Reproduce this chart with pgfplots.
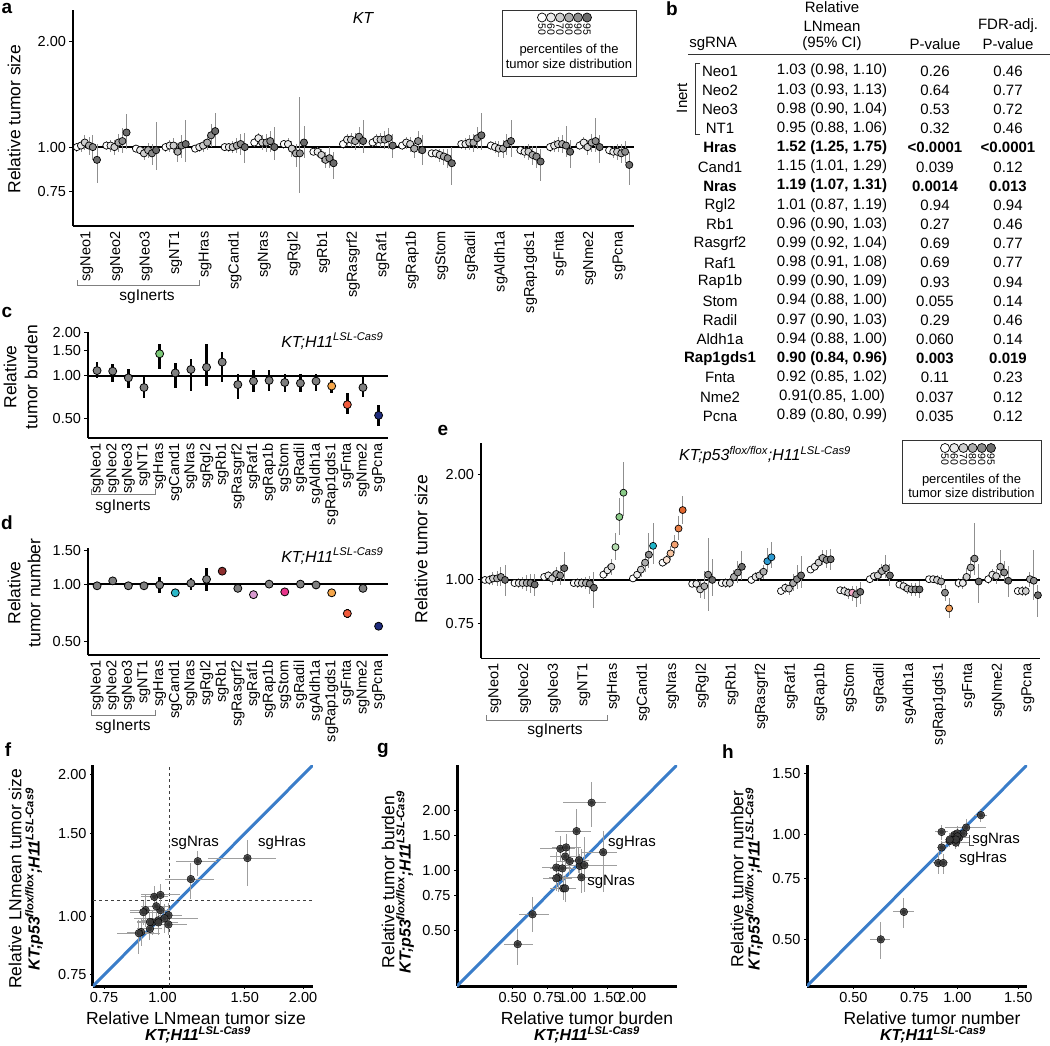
\documentclass[border=0pt]{standalone}
\usepackage{fontspec}
\setmainfont{Liberation Sans}
\usepackage{pgfplots}
\usepackage{pgfplotstable}
\pgfplotsset{compat=1.18}

\definecolor{pA}{HTML}{FFFFFF}
\definecolor{pB}{HTML}{EBEBEB}
\definecolor{pC}{HTML}{CFCFCF}
\definecolor{pD}{HTML}{ADADAD}
\definecolor{pE}{HTML}{8C8C8C}
\definecolor{pF}{HTML}{6B6B6B}
\definecolor{gA}{HTML}{B5DDB0}
\definecolor{gB}{HTML}{8ACB88}
\definecolor{cyA}{HTML}{1FB5C9}
\definecolor{oA}{HTML}{FBE5D6}
\definecolor{oB}{HTML}{F6C4A0}
\definecolor{oC}{HTML}{F2A070}
\definecolor{oD}{HTML}{EA8048}
\definecolor{oE}{HTML}{E2672E}
\definecolor{blA}{HTML}{2C9AD1}
\definecolor{pkA}{HTML}{F2A7C6}
\definecolor{orA}{HTML}{F4A05A}
\definecolor{cgray}{HTML}{7F7F7F}
\definecolor{hgreen}{HTML}{7CC978}
\definecolor{corange}{HTML}{F5A64A}
\definecolor{cred}{HTML}{F15A3B}
\definecolor{cnavy}{HTML}{1E2B7C}
\definecolor{ccyan}{HTML}{2CB8C8}
\definecolor{cdred}{HTML}{8E2E2E}
\definecolor{clav}{HTML}{D79ACF}
\definecolor{cpink}{HTML}{E8358A}
\definecolor{errgray}{HTML}{8F8F8F}
\definecolor{diagblue}{HTML}{3A7DC9}
\definecolor{ptdark}{HTML}{3C3C3C}

\newcommand\fsz[1]{\fontsize{#1}{#1}\selectfont}

\pgfplotsset{/pgf/number format/assume math mode=true}
\pgfplotsset{
  dotbase/.style={scale only axis, axis x line*=bottom, axis y line*=left,
    tick label style={font=\fsz{14.5}},
    tick align=outside, major tick length=3.5pt,
    ytick style={black, line width=1pt}, xtick style={draw=none},
    xtick={0,...,18},
    xticklabels={sgNeo1,sgNeo2,sgNeo3,sgNT1,sgHras,sgCand1,sgNras,sgRgl2,sgRb1,sgRasgrf2,sgRaf1,sgRap1b,sgStom,sgRadil,sgAldh1a,sgRap1gds1,sgFnta,sgNme2,sgPcna},
    xticklabel style={rotate=90, anchor=east, inner sep=2pt},
    y axis line style={line width=2.5pt}, x axis line style={line width=1.6pt},
  },
  pct/.style={scatter, only marks, scatter src=explicit symbolic,
    mark options={line width=0.7pt},
    scatter/classes={
      p1={mark=*,draw=black,fill=pA}, p2={mark=*,draw=black,fill=pB},
      p3={mark=*,draw=black,fill=pC}, p4={mark=*,draw=black,fill=pD},
      p5={mark=*,draw=black,fill=pE}, p6={mark=*,draw=black,fill=pF},
      gA={mark=*,draw=black,fill=gA}, gB={mark=*,draw=black,fill=gB},
      cy={mark=*,draw=black,fill=cyA},
      oA={mark=*,draw=black,fill=oA}, oB={mark=*,draw=black,fill=oB},
      oC={mark=*,draw=black,fill=oC}, oD={mark=*,draw=black,fill=oD},
      oE={mark=*,draw=black,fill=oE},
      bl={mark=*,draw=black,fill=blA}, pk={mark=*,draw=black,fill=pkA},
      or={mark=*,draw=black,fill=orA}}},
  cdcls/.style={scatter, only marks, scatter src=explicit symbolic,
    mark options={line width=0.8pt}, mark size=4pt,
    scatter/classes={
      g={mark=*,draw=black,fill=cgray}, hg={mark=*,draw=black,fill=hgreen},
      co={mark=*,draw=black,fill=corange}, cr={mark=*,draw=black,fill=cred},
      cn={mark=*,draw=black,fill=cnavy}, cc={mark=*,draw=black,fill=ccyan},
      cd={mark=*,draw=black,fill=cdred}, cl={mark=*,draw=black,fill=clav},
      cp={mark=*,draw=black,fill=cpink}}},
  scatbase/.style={scale only axis, axis x line*=bottom, axis y line*=left,
    tick label style={font=\fsz{14.5}},
    tick align=outside, major tick length=3pt,
    tick style={black, line width=1pt},
    axis line style={line width=3pt}},
  errs/.style={only marks, mark=none, forget plot,
    error bars/y dir=both, error bars/y explicit, error bars/error mark=none,
    error bars/error bar style={draw=errgray, line width=0.9pt}},
  errsblack/.style={only marks, mark=none, forget plot,
    error bars/y dir=both, error bars/y explicit, error bars/error mark=none,
    error bars/error bar style={draw=black, line width=2.5pt}},
  xyerrs/.style={only marks, mark=none, forget plot,
    error bars/x dir=both, error bars/x explicit, error bars/y dir=both, error bars/y explicit,
    error bars/error mark=none,
    error bars/error bar style={draw=gray!75, line width=1pt}},
  darkpts/.style={only marks, mark=*, mark size=3.8pt,
    mark options={draw=none, fill=ptdark, fill opacity=0.85}},
}

\pgfplotstableread{
x y ep em c
-0.34 1.00 .03 .03 p1
-0.20 1.01 .04 .04 p2
-0.07 1.03 .05 .05 p3
0.07 1.01 .06 .06 p4
0.20 1.00 .08 .08 p5
0.34 0.92 .10 .13 p6
0.66 1.01 .03 .03 p1
0.80 1.01 .04 .04 p2
0.93 1.00 .05 .05 p3
1.07 1.03 .06 .06 p4
1.20 1.04 .09 .08 p5
1.34 1.10 .14 .11 p6
1.66 0.99 .02 .02 p1
1.80 0.98 .03 .03 p2
1.93 0.96 .04 .04 p3
2.07 0.98 .05 .05 p4
2.20 0.96 .06 .07 p5
2.34 0.98 .20 .12 p6
2.66 1.00 .03 .03 p1
2.80 1.01 .04 .04 p2
2.93 1.01 .05 .05 p3
3.07 0.97 .06 .06 p4
3.20 1.01 .07 .08 p5
3.34 1.02 .17 .11 p6
3.66 0.99 .02 .02 p1
3.80 1.00 .03 .03 p2
3.93 1.01 .04 .04 p3
4.07 1.03 .05 .05 p4
4.20 1.08 .08 .08 p5
4.34 1.11 .14 .10 p6
4.66 1.00 .02 .02 p1
4.80 1.00 .03 .03 p2
4.93 1.00 .04 .04 p3
5.07 1.01 .05 .05 p4
5.20 1.02 .07 .07 p5
5.34 1.00 .10 .10 p6
5.66 1.03 .03 .03 p1
5.80 1.06 .04 .04 p2
5.93 1.03 .05 .05 p3
6.07 1.03 .06 .06 p4
6.20 1.04 .07 .07 p5
6.34 1.00 .14 .08 p6
6.66 1.02 .03 .03 p1
6.80 1.02 .04 .04 p2
6.93 0.99 .05 .05 p3
7.07 0.96 .06 .08 p4
7.20 0.96 .43 .22 p5
7.34 1.03 .12 .10 p6
7.66 0.97 .02 .02 p1
7.80 0.97 .03 .03 p2
7.93 0.95 .04 .04 p3
8.07 0.92 .05 .05 p4
8.20 0.93 .07 .06 p5
8.34 0.90 .07 .09 p6
8.66 1.02 .03 .03 p1
8.80 1.05 .04 .04 p2
8.93 1.05 .05 .05 p3
9.07 1.04 .06 .06 p4
9.20 1.07 .07 .07 p5
9.34 1.04 .15 .08 p6
9.66 1.03 .03 .03 p1
9.80 1.05 .04 .04 p2
9.93 1.05 .05 .05 p3
10.07 1.05 .06 .06 p4
10.20 1.06 .07 .07 p5
10.34 1.01 .08 .08 p6
10.66 1.01 .03 .03 p1
10.80 1.03 .04 .04 p2
10.93 1.02 .05 .05 p3
11.07 0.99 .06 .06 p4
11.20 1.04 .07 .08 p5
11.34 0.98 .10 .09 p6
11.66 0.96 .02 .02 p1
11.80 0.96 .03 .03 p2
11.93 0.95 .04 .04 p3
12.07 0.94 .05 .05 p4
12.20 0.93 .06 .06 p5
12.34 0.90 .10 .12 p6
12.66 1.02 .03 .03 p1
12.80 1.02 .04 .04 p2
12.93 1.03 .05 .05 p3
13.07 1.03 .06 .06 p4
13.20 1.06 .08 .07 p5
13.34 1.08 .17 .10 p6
13.66 1.01 .03 .03 p1
13.80 1.00 .04 .04 p2
13.93 0.99 .05 .05 p3
14.07 0.99 .06 .06 p4
14.20 1.02 .07 .07 p5
14.34 1.04 .15 .10 p6
14.66 0.98 .03 .03 p1
14.80 0.97 .04 .04 p2
14.93 0.97 .05 .05 p3
15.07 0.95 .06 .06 p4
15.20 0.94 .07 .07 p5
15.34 0.91 .08 .11 p6
15.66 1.00 .03 .03 p1
15.80 1.01 .04 .04 p2
15.93 1.02 .05 .05 p3
16.07 1.02 .06 .06 p4
16.20 1.01 .14 .07 p5
16.34 0.97 .08 .10 p6
16.66 1.01 .03 .03 p1
16.80 1.03 .04 .04 p2
16.93 1.00 .05 .05 p3
17.07 1.03 .06 .06 p4
17.20 1.04 .17 .07 p5
17.34 1.00 .08 .10 p6
17.66 0.98 .03 .03 p1
17.80 0.97 .04 .04 p2
17.93 0.97 .05 .05 p3
18.07 0.96 .06 .06 p4
18.20 0.97 .07 .07 p5
18.34 0.89 .08 .11 p6
}\dataA

\pgfplotstableread{
x y ep em c
-0.34 1.00 .02 .02 p1
-0.20 1.00 .03 .03 p2
-0.07 1.01 .04 .04 p3
0.07 1.01 .05 .05 p4
0.20 1.02 .07 .06 p5
0.34 1.00 .10 .10 p6
0.66 0.98 .02 .02 p1
0.80 0.98 .03 .03 p2
0.93 0.98 .04 .04 p3
1.07 0.98 .05 .05 p4
1.20 0.98 .06 .06 p5
1.34 0.97 .07 .07 p6
1.66 1.02 .02 .02 p1
1.80 1.03 .03 .03 p2
1.93 1.01 .04 .04 p3
2.07 1.04 .05 .05 p4
2.20 1.03 .07 .06 p5
2.34 1.08 .12 .09 p6
2.66 0.98 .02 .02 p1
2.80 0.98 .03 .03 p2
2.93 0.98 .03 .03 p3
3.07 0.98 .04 .04 p4
3.20 0.975 .05 .06 p5
3.34 0.95 .10 .12 p6
3.66 1.035 .03 .03 p1
3.80 1.065 .04 .04 p2
3.93 1.09 .06 .06 p3
4.07 1.24 .12 .10 gA
4.20 1.51 .20 .17 gB
4.34 1.77 .40 .25 gB
4.66 1.01 .02 .02 p1
4.80 1.035 .03 .03 p2
4.93 1.07 .05 .05 p3
5.07 1.12 .08 .07 p4
5.20 1.18 .18 .10 p5
5.34 1.25 .20 .14 cy
5.66 1.12 .03 .03 p1
5.80 1.14 .04 .04 oA
5.93 1.19 .06 .05 oB
6.07 1.26 .08 .07 oC
6.20 1.40 .12 .10 oD
6.34 1.58 .15 .14 oE
6.66 0.975 .02 .02 p1
6.80 0.975 .03 .03 p2
6.93 0.94 .05 .05 p3
7.07 0.96 .10 .08 p4
7.20 1.035 .28 .22 p5
7.34 1.00 .15 .10 p6
7.66 0.98 .02 .02 p1
7.80 0.98 .03 .03 p2
7.93 0.98 .03 .03 p3
8.07 1.02 .05 .04 p4
8.20 1.05 .08 .07 p5
8.34 1.09 .12 .09 p6
8.66 1.00 .02 .02 p1
8.80 1.02 .03 .03 p2
8.93 1.03 .04 .04 p3
9.07 1.055 .05 .05 p4
9.20 1.13 .10 .08 bl
9.34 1.16 .12 .08 bl
9.66 0.93 .02 .02 p1
9.80 0.95 .03 .03 p2
9.93 0.945 .04 .04 p3
10.07 0.98 .06 .05 p4
10.20 1.005 .10 .06 p5
10.34 1.03 .14 .08 p6
10.66 1.07 .02 .02 p1
10.80 1.09 .03 .03 p2
10.93 1.12 .05 .04 p3
11.07 1.155 .06 .05 p4
11.20 1.14 .08 .06 p5
11.34 1.145 .08 .08 p6
11.66 0.935 .02 .02 p1
11.80 0.93 .03 .03 p2
11.93 0.92 .03 .04 p3
12.07 0.92 .04 .05 pk
12.20 0.91 .05 .07 p5
12.34 0.925 .06 .07 p6
12.66 1.005 .02 .02 p1
12.80 1.025 .03 .03 p2
12.93 1.03 .04 .04 p3
13.07 1.06 .05 .05 p4
13.20 1.08 .10 .07 p5
13.34 1.03 .08 .07 p6
13.66 0.97 .02 .02 p1
13.80 0.96 .03 .03 p2
13.93 0.945 .03 .03 p3
14.07 0.94 .04 .04 p4
14.20 0.94 .04 .04 p5
14.34 0.94 .05 .05 p6
14.66 1.005 .02 .02 p1
14.80 1.005 .02 .02 p2
14.93 1.00 .03 .03 p3
15.07 0.99 .04 .04 p4
15.20 0.92 .05 .05 p5
15.34 0.83 .06 .05 or
15.66 0.98 .03 .03 p1
15.80 0.98 .04 .04 p2
15.93 1.02 .06 .05 p3
16.07 1.085 .08 .07 p4
16.20 1.15 .30 .12 p5
16.34 0.99 .12 .13 p6
16.66 1.005 .03 .03 p1
16.80 1.035 .04 .04 p2
16.93 1.025 .05 .05 p3
17.07 1.09 .13 .08 p4
17.20 1.05 .08 .07 p5
17.34 0.995 .10 .10 p6
17.66 0.93 .02 .02 p1
17.80 0.93 .03 .03 p2
17.93 0.93 .03 .03 p3
18.07 1.005 .05 .05 p4
18.20 0.995 .22 .12 p5
18.34 0.905 .06 .12 p6
}\dataE

\pgfplotstableread{
x y ep em c
0 1.09 .16 .13 g
1 1.08 .14 .17 g
2 0.97 .15 .14 g
3 0.83 .15 .13 g
4 1.43 .25 .31 hg
5 1.05 .19 .23 g
6 1.11 .21 .32 g
7 1.15 .53 .30 g
8 1.25 .22 .35 g
9 0.87 .16 .18 g
10 0.92 .18 .15 g
11 0.93 .17 .14 g
12 0.90 .14 .13 g
13 0.89 .14 .12 g
14 0.92 .11 .13 g
15 0.85 .09 .09 co
16 0.63 .13 .09 cr
17 0.83 .17 .12 g
18 0.53 .10 .08 cn
}\dataC

\pgfplotstableread{
x y ep em c
0 0.98 .02 .02 g
1 1.04 .02 .02 g
2 0.98 .02 .02 g
3 0.98 .02 .02 g
4 0.99 .10 .09 g
5 0.90 .03 .03 cc
6 1.01 .07 .08 g
7 1.06 .15 .14 g
8 1.17 .04 .04 cd
9 0.95 .02 .02 g
10 0.88 .03 .03 cl
11 1.00 .05 .05 g
12 0.91 .03 .03 cp
13 1.00 .02 .02 g
14 0.99 .05 .05 g
15 0.90 .03 .03 co
16 0.70 .04 .04 cr
17 0.95 .02 .02 g
18 0.60 .02 .02 cn
}\dataD

\pgfplotstableread{
x y xp xm yp ym
1.03 1.005 .07 .05 .06 .05
1.03 0.96 .10 .10 .05 .05
0.98 0.98 .06 .08 .05 .05
0.95 0.97 .11 .07 .06 .06
1.52 1.33 .23 .27 .12 .17
1.15 1.20 .14 .14 .10 .11
1.19 1.31 .12 .12 .07 .09
1.01 0.99 .18 .14 .07 .07
0.96 1.10 .07 .06 .06 .06
0.99 1.03 .05 .07 .05 .05
0.98 0.97 .10 .07 .06 .06
0.99 1.11 .10 .09 .06 .06
0.94 0.94 .06 .06 .05 .05
0.97 1.05 .06 .07 .06 .06
0.94 0.972 .06 .06 .05 .05
0.90 0.925 .06 .06 .06 .06
0.92 1.03 .10 .07 .08 .08
0.91 1.02 .09 .06 .06 .06
0.89 0.92 .10 .09 .06 .09
}\dataF

\pgfplotstableread{
x y xp xm yp ym
1.09 1.05 .16 .13 .15 .13
1.08 1.12 .14 .17 .18 .15
0.97 1.11 .15 .14 .20 .17
0.83 1.03 .15 .13 .20 .15
1.43 1.23 .25 .31 .34 .45
1.05 1.57 .19 .23 .45 .50
1.11 0.92 .21 .32 .35 .15
1.15 1.06 .53 .30 .40 .28
1.25 2.18 .22 .35 .60 .53
0.87 1.28 .16 .18 .20 .18
0.92 1.17 .18 .15 .18 .15
0.93 1.30 .17 .14 .22 .20
0.90 0.81 .14 .13 .12 .10
0.89 1.02 .14 .12 .16 .14
0.92 0.81 .11 .13 .14 .12
0.85 0.92 .09 .09 .15 .14
0.63 0.60 .13 .09 .13 .11
0.83 0.91 .17 .12 .12 .12
0.53 0.425 .10 .08 .08 .09
}\dataG

\pgfplotstableread{
x y xp xm yp ym
0.98 0.99 .02 .02 .03 .03
1.04 1.01 .03 .03 .03 .03
0.98 1.00 .02 .02 .03 .03
0.98 0.97 .03 .03 .04 .04
0.99 0.95 .10 .09 .04 .04
0.90 1.02 .04 .04 .05 .05
1.01 0.98 .07 .08 .05 .06
1.06 1.05 .15 .14 .06 .06
1.17 1.14 .05 .05 .05 .05
0.95 0.96 .03 .03 .04 .04
0.88 0.83 .03 .03 .06 .06
1.00 1.01 .05 .05 .05 .05
0.91 0.83 .03 .03 .05 .06
1.00 0.99 .03 .03 .04 .04
0.99 0.97 .05 .05 .04 .04
0.90 0.92 .03 .03 .04 .04
0.70 0.60 .05 .05 .06 .06
0.95 0.97 .03 .03 .04 .04
0.60 0.50 .04 .04 .06 .06
}\dataH

\begin{document}
\begin{tikzpicture}
\useasboundingbox (0pt,0pt) rectangle (1050pt,-1045pt);

% ---------------- panel a ----------------
\begin{axis}[dotbase, ymode=log, at={(73pt,-226pt)}, anchor=south west,
  width=561pt, height=216pt, xmin=-0.47, xmax=18.5, ymin=0.597, ymax=2.45,
  ytick={0.75,1,2}, yticklabels={0.75,1.00,2.00}]
\addplot[black, line width=2pt, forget plot] coordinates {(-0.47,1) (18.5,1)};
\addplot[errs] table[x=x,y=y,y error plus=ep,y error minus=em] {\dataA};
\addplot[pct, mark size=3.6pt] table[x=x,y=y,meta=c] {\dataA};
\end{axis}
\node[rotate=90, font=\fsz{17.5}] at (14pt,-119pt) {Relative tumor size};
\node[font=\fsz{16}\itshape] at (363pt,-18pt) {KT};
\draw[gray, line width=1pt] (77pt,-280pt) -- (77pt,-285pt) -- (199pt,-285pt) -- (199pt,-280pt);
\node[font=\fsz{15.5}] at (147pt,-297pt) {sgInerts};
\node[font=\fsz{19}\bfseries] at (7pt,-8pt) {a};

% legend a
\begin{axis}[scale only axis, at={(502pt,-76.5pt)}, anchor=south west,
  width=134pt, height=66pt, xmin=0, xmax=134, ymin=0, ymax=66,
  axis line style={line width=0.8pt, black!80}, ticks=none]
\addplot[pct, mark size=4.5pt] table[x=x,y=y,meta=c] {
x y c
40 59 p1
49 59 p2
58 59 p3
67 59 p4
76 59 p5
85 59 p6
};
\node[rotate=-90, anchor=west, font=\fsz{10.5}, inner sep=0pt] at (axis cs:40,53.5) {50};
\node[rotate=-90, anchor=west, font=\fsz{10.5}, inner sep=0pt] at (axis cs:49,53.5) {60};
\node[rotate=-90, anchor=west, font=\fsz{10.5}, inner sep=0pt] at (axis cs:58,53.5) {70};
\node[rotate=-90, anchor=west, font=\fsz{10.5}, inner sep=0pt] at (axis cs:67,53.5) {80};
\node[rotate=-90, anchor=west, font=\fsz{10.5}, inner sep=0pt] at (axis cs:76,53.5) {90};
\node[rotate=-90, anchor=west, font=\fsz{10.5}, inner sep=0pt] at (axis cs:85,53.5) {95};
\node[font=\fsz{13}] at (axis cs:67,26.5) {percentiles of the};
\node[font=\fsz{13}] at (axis cs:67,12.5) {tumor size distribution};
\end{axis}

% ---------------- panel b (table) ----------------
\node[font=\fsz{19}\bfseries] at (672pt,-9pt) {b};
\node[font=\fsz{15}] at (832pt,-7pt) {Relative};
\node[font=\fsz{15}] at (832pt,-26pt) {LNmean};
\node[font=\fsz{15}] at (832pt,-44pt) {(95\% CI)};
\node[font=\fsz{15}] at (713pt,-44pt) {sgRNA};
\node[font=\fsz{15}] at (935pt,-44pt) {P-value};
\node[font=\fsz{15}] at (1008pt,-26pt) {FDR-adj.};
\node[font=\fsz{15}] at (1008pt,-44pt) {P-value};
\draw[black!80, line width=1pt] (688pt,-54.5pt) -- (1050pt,-54.5pt);
\draw[black!80, line width=1pt] (700pt,-63pt) -- (695pt,-63pt) -- (695pt,-134pt) -- (700pt,-134pt);
\node[rotate=90, font=\fsz{15}] at (682pt,-98pt) {Inert};
\foreach \f/\n/\a/\b/\c [count=\i from 0] in {
  \relax/Neo1/{1.03 (0.98, 1.10)}/0.26/0.46,
  \relax/Neo2/{1.03 (0.93, 1.13)}/0.64/0.77,
  \relax/Neo3/{0.98 (0.90, 1.04)}/0.53/0.72,
  \relax/NT1/{0.95 (0.88, 1.06)}/0.32/0.46,
  \bfseries/Hras/{1.52 (1.25, 1.75)}/{<0.0001}/{<0.0001},
  \relax/Cand1/{1.15 (1.01, 1.29)}/0.039/0.12,
  \bfseries/Nras/{1.19 (1.07, 1.31)}/0.0014/0.013,
  \relax/Rgl2/{1.01 (0.87, 1.19)}/0.94/0.94,
  \relax/Rb1/{0.96 (0.90, 1.03)}/0.27/0.46,
  \relax/Rasgrf2/{0.99 (0.92, 1.04)}/0.69/0.77,
  \relax/Raf1/{0.98 (0.91, 1.08)}/0.69/0.77,
  \relax/Rap1b/{0.99 (0.90, 1.09)}/0.93/0.94,
  \relax/Stom/{0.94 (0.88, 1.00)}/0.055/0.14,
  \relax/Radil/{0.97 (0.90, 1.03)}/0.29/0.46,
  \relax/Aldh1a/{0.94 (0.88, 1.00)}/0.060/0.14,
  \bfseries/Rap1gds1/{0.90 (0.84, 0.96)}/0.003/0.019,
  \relax/Fnta/{0.92 (0.85, 1.02)}/0.11/0.23,
  \relax/Nme2/{0.91(0.85, 1.00)}/0.037/0.12,
  \relax/Pcna/{0.89 (0.80, 0.99)}/0.035/0.12}{
  \pgfmathsetmacro\yy{-(71+19.17*\i)}
  \node[font=\fsz{15}\f] at (720pt,\yy pt) {\n};
  \node[font=\fsz{15}\f] at (832pt,\yy pt) {\a};
  \node[font=\fsz{15}\f] at (935pt,\yy pt) {\b};
  \node[font=\fsz{15}\f] at (1008pt,\yy pt) {\c};
}

% ---------------- panel c ----------------
\begin{axis}[dotbase, ymode=log, at={(88pt,-438pt)}, anchor=south west,
  width=300pt, height=106pt, xmin=-0.58, xmax=18.6, ymin=0.368, ymax=2.03,
  ytick={0.5,1,1.5,2}, yticklabels={0.50,1.00,1.50,2.00},
  x axis line style={line width=2pt}]
\addplot[black, line width=2pt, forget plot] coordinates {(-0.58,1) (18.6,1)};
\addplot[errsblack] table[x=x,y=y,y error plus=ep,y error minus=em] {\dataC};
\addplot[cdcls] table[x=x,y=y,meta=c] {\dataC};
\end{axis}
\node[rotate=90, font=\fsz{17.5}] at (10pt,-377pt) {Relative};
\node[rotate=90, font=\fsz{17.5}] at (31pt,-377pt) {tumor burden};
\node[anchor=east, font=\fsz{16}\itshape] at (387pt,-341pt) {KT;H11\textsuperscript{LSL-Cas9}};
\draw[gray, line width=1pt] (91pt,-489pt) -- (91pt,-494pt) -- (155pt,-494pt) -- (155pt,-489pt);
\node[font=\fsz{15.5}] at (123pt,-507pt) {sgInerts};
\node[font=\fsz{19}\bfseries] at (7pt,-312pt) {c};

% ---------------- panel d ----------------
\begin{axis}[dotbase, ymode=log, at={(88pt,-655pt)}, anchor=south west,
  width=300pt, height=107pt, xmin=-0.58, xmax=18.6, ymin=0.423, ymax=1.55,
  ytick={0.5,1,1.5}, yticklabels={0.50,1.00,1.50},
  x axis line style={line width=2pt}]
\addplot[black, line width=2pt, forget plot] coordinates {(-0.58,1) (18.6,1)};
\addplot[errsblack] table[x=x,y=y,y error plus=ep,y error minus=em] {\dataD};
\addplot[cdcls] table[x=x,y=y,meta=c] {\dataD};
\end{axis}
\node[rotate=90, font=\fsz{17.5}] at (14pt,-593pt) {Relative};
\node[rotate=90, font=\fsz{17.5}] at (34pt,-593pt) {tumor number};
\node[anchor=east, font=\fsz{16}\itshape] at (387pt,-556pt) {KT;H11\textsuperscript{LSL-Cas9}};
\draw[gray, line width=1pt] (91pt,-710pt) -- (91pt,-715pt) -- (155pt,-715pt) -- (155pt,-710pt);
\node[font=\fsz{15.5}] at (123pt,-727pt) {sgInerts};
\node[font=\fsz{19}\bfseries] at (7pt,-523pt) {d};

% ---------------- panel e ----------------
\begin{axis}[dotbase, ymode=log, at={(481pt,-658pt)}, anchor=south west,
  width=559pt, height=215pt, xmin=-0.473, xmax=18.41, ymin=0.60, ymax=2.45,
  ytick={0.75,1,2}, yticklabels={0.75,1.00,2.00},
  x axis line style={line width=1pt}]
\addplot[black, line width=2pt, forget plot] coordinates {(-0.473,1) (18.41,1)};
\addplot[errs] table[x=x,y=y,y error plus=ep,y error minus=em] {\dataE};
\addplot[pct, mark size=3.5pt] table[x=x,y=y,meta=c] {\dataE};
\end{axis}
\node[rotate=90, font=\fsz{17.5}] at (421pt,-549pt) {Relative tumor size};
\node[font=\fsz{16}\itshape] at (765pt,-455pt) {KT;p53\textsuperscript{flox/flox};H11\textsuperscript{LSL-Cas9}};
\draw[gray, line width=1pt] (486pt,-715pt) -- (486pt,-720pt) -- (607pt,-720pt) -- (607pt,-715pt);
\node[font=\fsz{15.5}] at (555pt,-731pt) {sgInerts};
\node[font=\fsz{19}\bfseries] at (443pt,-430pt) {e};

% legend e
\begin{axis}[scale only axis, at={(902pt,-503pt)}, anchor=south west,
  width=139pt, height=63pt, xmin=0, xmax=139, ymin=0, ymax=63,
  axis line style={line width=0.8pt, black!80}, ticks=none]
\addplot[pct, mark size=4.5pt] table[x=x,y=y,meta=c] {
x y c
43 55 p1
52.2 55 p2
61.4 55 p3
70.6 55 p4
79.8 55 p5
89 55 p6
};
\node[rotate=-90, anchor=west, font=\fsz{10.5}, inner sep=0pt] at (axis cs:43,49.5) {50};
\node[rotate=-90, anchor=west, font=\fsz{10.5}, inner sep=0pt] at (axis cs:52.2,49.5) {60};
\node[rotate=-90, anchor=west, font=\fsz{10.5}, inner sep=0pt] at (axis cs:61.4,49.5) {70};
\node[rotate=-90, anchor=west, font=\fsz{10.5}, inner sep=0pt] at (axis cs:70.6,49.5) {80};
\node[rotate=-90, anchor=west, font=\fsz{10.5}, inner sep=0pt] at (axis cs:79.8,49.5) {90};
\node[rotate=-90, anchor=west, font=\fsz{10.5}, inner sep=0pt] at (axis cs:89,49.5) {95};
\node[font=\fsz{13}] at (axis cs:69.5,23) {percentiles of the};
\node[font=\fsz{13}] at (axis cs:69.5,10) {tumor size distribution};
\end{axis}

% ---------------- panel f ----------------
\begin{axis}[scatbase, xmode=log, ymode=log, at={(93pt,-986pt)}, anchor=south west,
  width=220pt, height=221pt, xmin=0.71, xmax=2.1, ymin=0.71, ymax=2.1,
  xtick={0.75,1,1.5,2}, xticklabels={0.75,1.00,1.50,2.00},
  ytick={0.75,1,1.5,2}, yticklabels={0.75,1.00,1.50,2.00}]
\addplot[diagblue, line width=3pt, forget plot] coordinates {(0.5,0.5) (3,3)};
\addplot[black!75, dashed, line width=1pt, forget plot] coordinates {(1.035,0.71) (1.035,2.1)};
\addplot[black!75, dashed, line width=1pt, forget plot] coordinates {(0.71,1.08) (2.1,1.08)};
\addplot[xyerrs] table[x=x,y=y,x error plus=xp,x error minus=xm,y error plus=yp,y error minus=ym] {\dataF};
\addplot[darkpts] table[x=x,y=y] {\dataF};
\end{axis}
\node[font=\fsz{15}] at (195pt,-843pt) {sgNras};
\node[font=\fsz{15}] at (282pt,-843pt) {sgHras};
\node[font=\fsz{17.5}] at (196pt,-1018pt) {Relative LNmean tumor size};
\node[font=\fsz{16}\bfseries\itshape] at (198pt,-1035pt) {KT;H11\textsuperscript{LSL-Cas9}};
\node[rotate=90, font=\fsz{17.5}] at (15pt,-879pt) {Relative LNmean tumor size};
\node[rotate=90, font=\fsz{16}\bfseries\itshape] at (34pt,-879pt) {KT;p53\textsuperscript{flox/flox};H11\textsuperscript{LSL-Cas9}};
\node[font=\fsz{19}\bfseries] at (8pt,-750pt) {f};

% ---------------- panel g ----------------
\begin{axis}[scatbase, xmode=log, ymode=log, at={(457pt,-986pt)}, anchor=south west,
  width=220pt, height=221pt, xmin=0.262, xmax=3.37, ymin=0.262, ymax=3.37,
  xtick={0.5,0.75,1,1.5,2}, xticklabels={0.50,0.75,1.00,1.50,2.00},
  ytick={0.5,0.75,1,1.5,2}, yticklabels={0.50,0.75,1.00,1.50,2.00}]
\addplot[diagblue, line width=3pt, forget plot] coordinates {(0.2,0.2) (4,4)};
\addplot[xyerrs] table[x=x,y=y,x error plus=xp,x error minus=xm,y error plus=yp,y error minus=ym] {\dataG};
\addplot[darkpts] table[x=x,y=y] {\dataG};
\end{axis}
\node[font=\fsz{15}] at (632pt,-843pt) {sgHras};
\node[font=\fsz{15}] at (611pt,-882pt) {sgNras};
\node[font=\fsz{17.5}] at (587pt,-1018pt) {Relative tumor burden};
\node[font=\fsz{16}\bfseries\itshape] at (587pt,-1035pt) {KT;H11\textsuperscript{LSL-Cas9}};
\node[rotate=90, font=\fsz{17.5}] at (388pt,-882pt) {Relative tumor burden};
\node[rotate=90, font=\fsz{16}\bfseries\itshape] at (405pt,-882pt) {KT;p53\textsuperscript{flox/flox};H11\textsuperscript{LSL-Cas9}};
\node[font=\fsz{19}\bfseries] at (383pt,-750pt) {g};

% ---------------- panel h ----------------
\begin{axis}[scatbase, xmode=log, ymode=log, at={(807pt,-986pt)}, anchor=south west,
  width=220pt, height=221pt, xmin=0.367, xmax=1.59, ymin=0.367, ymax=1.59,
  xtick={0.5,0.75,1,1.5}, xticklabels={0.50,0.75,1.00,1.50},
  ytick={0.5,0.75,1,1.5}, yticklabels={0.50,0.75,1.00,1.50}]
\addplot[diagblue, line width=3pt, forget plot] coordinates {(0.2,0.2) (2,2)};
\addplot[xyerrs] table[x=x,y=y,x error plus=xp,x error minus=xm,y error plus=yp,y error minus=ym] {\dataH};
\addplot[darkpts] table[x=x,y=y] {\dataH};
\end{axis}
\draw[black!70, line width=0.8pt] (969pt,-835pt) -- (969pt,-845pt) -- (974pt,-845pt);
\node[font=\fsz{15}] at (996pt,-840pt) {sgNras};
\node[font=\fsz{15}] at (983pt,-859pt) {sgHras};
\node[font=\fsz{17.5}] at (932pt,-1018pt) {Relative tumor number};
\node[font=\fsz{16}\bfseries\itshape] at (933pt,-1035pt) {KT;H11\textsuperscript{LSL-Cas9}};
\node[rotate=90, font=\fsz{17.5}] at (737pt,-879pt) {Relative tumor number};
\node[rotate=90, font=\fsz{16}\bfseries\itshape] at (754pt,-879pt) {KT;p53\textsuperscript{flox/flox};H11\textsuperscript{LSL-Cas9}};
\node[font=\fsz{19}\bfseries] at (728pt,-752pt) {h};
\end{tikzpicture}
\end{document}
